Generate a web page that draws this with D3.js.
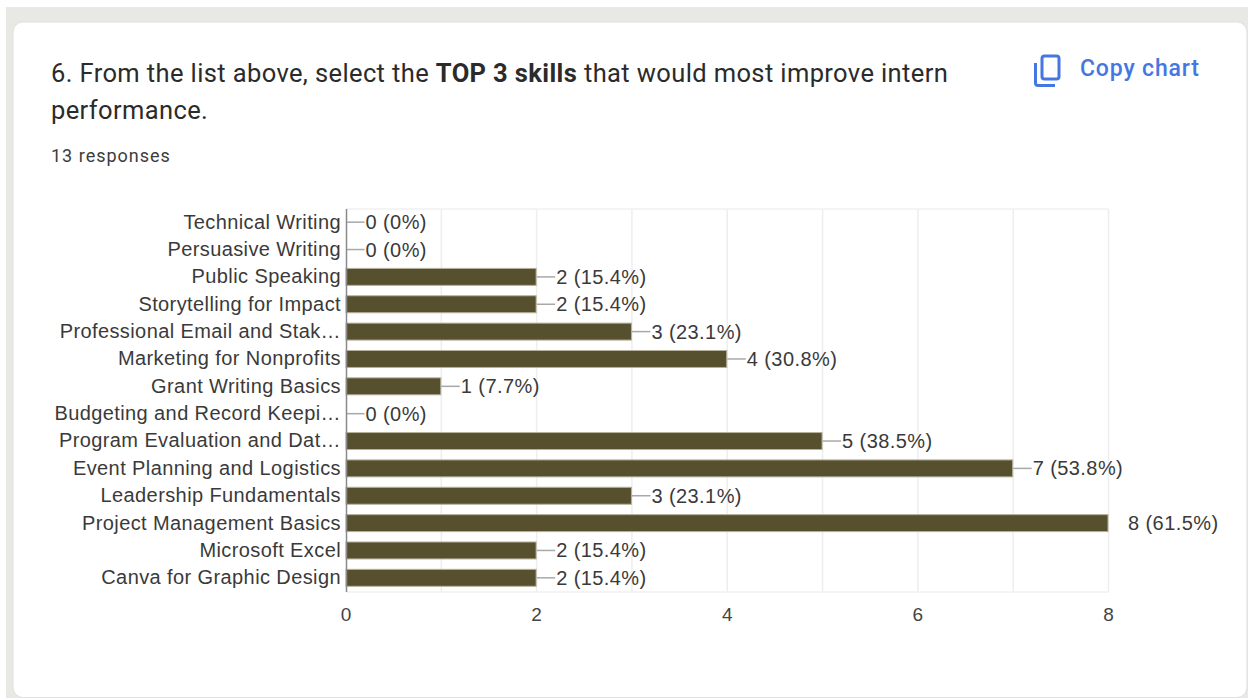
<!DOCTYPE html>
<html>
<head>
<meta charset="utf-8">
<script src="https://cdn.jsdelivr.net/npm/d3@7/dist/d3.min.js"></script>
<style>
  html, body { margin: 0; padding: 0; background: #fff; overflow: hidden; }
  svg { display: block; }
</style>
</head>
<body>
<svg id="chart" width="1248" height="698"></svg>
<script>
// Survey question 6: how many respondents picked each skill
const categories = [
  "Technical Writing", "Persuasive Writing", "Public Speaking", "Storytelling for Impact",
  "Professional Email and Stak…", "Marketing for Nonprofits", "Grant Writing Basics",
  "Budgeting and Record Keepi…", "Program Evaluation and Dat…", "Event Planning and Logistics",
  "Leadership Fundamentals", "Project Management Basics", "Microsoft Excel", "Canva for Graphic Design"
];
const counts = [0, 0, 2, 2, 3, 4, 1, 0, 5, 7, 3, 8, 2, 2];
const shares = ["0%", "0%", "15.4%", "15.4%", "23.1%", "30.8%", "7.7%", "0%", "38.5%", "53.8%", "23.1%", "61.5%", "15.4%", "15.4%"];
const tickValues = [0, 2, 4, 6, 8];
const gridValues = [1, 2, 3, 4, 5, 6, 7, 8];
const responses = "13 responses";
const copyLabel = "Copy chart";

const svg = d3.select("#chart");
const chartFont = "'Liberation Sans', Arial, sans-serif";
const uiFont = "Roboto, sans-serif";

// Page backdrop and the card
svg.append("rect").attr("x", 6).attr("y", 7).attr("width", 1242).attr("height", 691).attr("fill", "#e8e9e4");
svg.append("rect").attr("x", 13).attr("y", 22).attr("width", 1234).attr("height", 675.5)
  .attr("rx", 10).attr("fill", "#fff").attr("stroke", "#e0e1de").attr("stroke-width", 1);

// Heading
const heading = svg.append("g").attr("font-family", uiFont).attr("fill", "#2b2b2b")
  .attr("font-size", 25.5).attr("letter-spacing", 0.38);
const line1 = heading.append("text").attr("x", 51).attr("y", 81.5);
line1.append("tspan").text("6. From the list above, select the ");
line1.append("tspan").attr("font-weight", 700).text("TOP 3 skills");
line1.append("tspan").text(" that would most improve intern");
heading.append("text").attr("x", 51).attr("y", 119).text("performance.");
svg.append("text").attr("x", 51).attr("y", 161.5).attr("font-family", uiFont).attr("font-size", 18)
  .attr("letter-spacing", 1).attr("fill", "#3c3c3c").text(responses);

// Copy button: two stacked-sheet outlines and the label
const icon = svg.append("g").attr("fill", "none").attr("stroke", "#4577e3").attr("stroke-width", 3);
icon.append("rect").attr("x", 1042).attr("y", 56).attr("width", 17).attr("height", 23).attr("rx", 2.5);
icon.append("path").attr("d", "M1035.5 63 V83 Q1035.5 85.5 1038 85.5 H1055");
svg.append("text").attr("x", 1080).attr("y", 76).attr("font-family", uiFont).attr("font-size", 23)
  .attr("font-weight", 500).attr("letter-spacing", 0.85).attr("fill", "#4577e3").text(copyLabel);

// Scales
const x = d3.scaleLinear().domain([0, 8]).range([346, 1108.5]);
const y = d3.scaleBand().domain(categories).range([208.5, 591.5]).paddingInner(0.38).paddingOuter(0.19);

// Gridlines
svg.append("g").selectAll("line").data(gridValues).join("line")
  .attr("x1", d => x(d)).attr("x2", d => x(d))
  .attr("y1", 209).attr("y2", 592)
  .attr("stroke", "#eeeeee").attr("stroke-width", 1.5);
svg.append("path").attr("d", `M${x(0)} 209 H${x(8)} M${x(0)} 592 H${x(8)}`)
  .attr("stroke", "#f1f1f1").attr("stroke-width", 1.5).attr("fill", "none");

// Bars
svg.append("g").selectAll("rect").data(categories.filter((c, i) => counts[i] > 0)).join("rect")
  .attr("x", x(0))
  .attr("y", d => y(d))
  .attr("width", d => x(counts[categories.indexOf(d)]) - x(0) - 0.5)
  .attr("height", y.bandwidth())
  .attr("fill", "#57502f")
  .attr("stroke", "#b5b19d").attr("stroke-width", 1);

// Leader lines from bar ends to their labels; the longest bar's label sits clear of the plot
const labelX = i => x(counts[i]) + 19.5;
svg.append("g").selectAll("line").data(categories).join("line")
  .attr("x1", d => x(counts[categories.indexOf(d)]))
  .attr("x2", (d, i) => counts[i] === 8 ? x(8) : labelX(i) - 1)
  .attr("y1", d => y(d) + y.bandwidth() / 2)
  .attr("y2", d => y(d) + y.bandwidth() / 2)
  .attr("stroke", "#a8a8a8").attr("stroke-width", 1.5);

const valueLabels = svg.append("g").attr("font-family", chartFont).attr("font-size", 20)
  .attr("letter-spacing", 0.42).attr("fill", "#3a3a3a");
valueLabels.selectAll("text").data(categories).join("text")
  .attr("x", (d, i) => labelX(i))
  .attr("y", d => y(d) + y.bandwidth() / 2)
  .attr("dy", "0.35em")
  .text((d, i) => `${counts[i]} (${shares[i]})`);

// Category axis
const yAxis = svg.append("g").attr("transform", `translate(${x(0)},0)`)
  .call(d3.axisLeft(y).tickSize(0).tickPadding(5));
yAxis.select(".domain").attr("stroke", "#8a8a8a").attr("stroke-width", 1.5);
yAxis.selectAll("text").attr("font-family", chartFont).attr("font-size", 20)
  .attr("letter-spacing", 0.4).attr("fill", "#3a3a3a");

// Value axis
const xAxis = svg.append("g").attr("transform", "translate(-0.5,592)")
  .call(d3.axisBottom(x).tickValues(tickValues).tickSize(0).tickPadding(16).tickFormat(d3.format("d")));
xAxis.select(".domain").remove();
xAxis.selectAll("text").attr("font-family", chartFont).attr("font-size", 19).attr("fill", "#444");
</script>
</body>
</html>
